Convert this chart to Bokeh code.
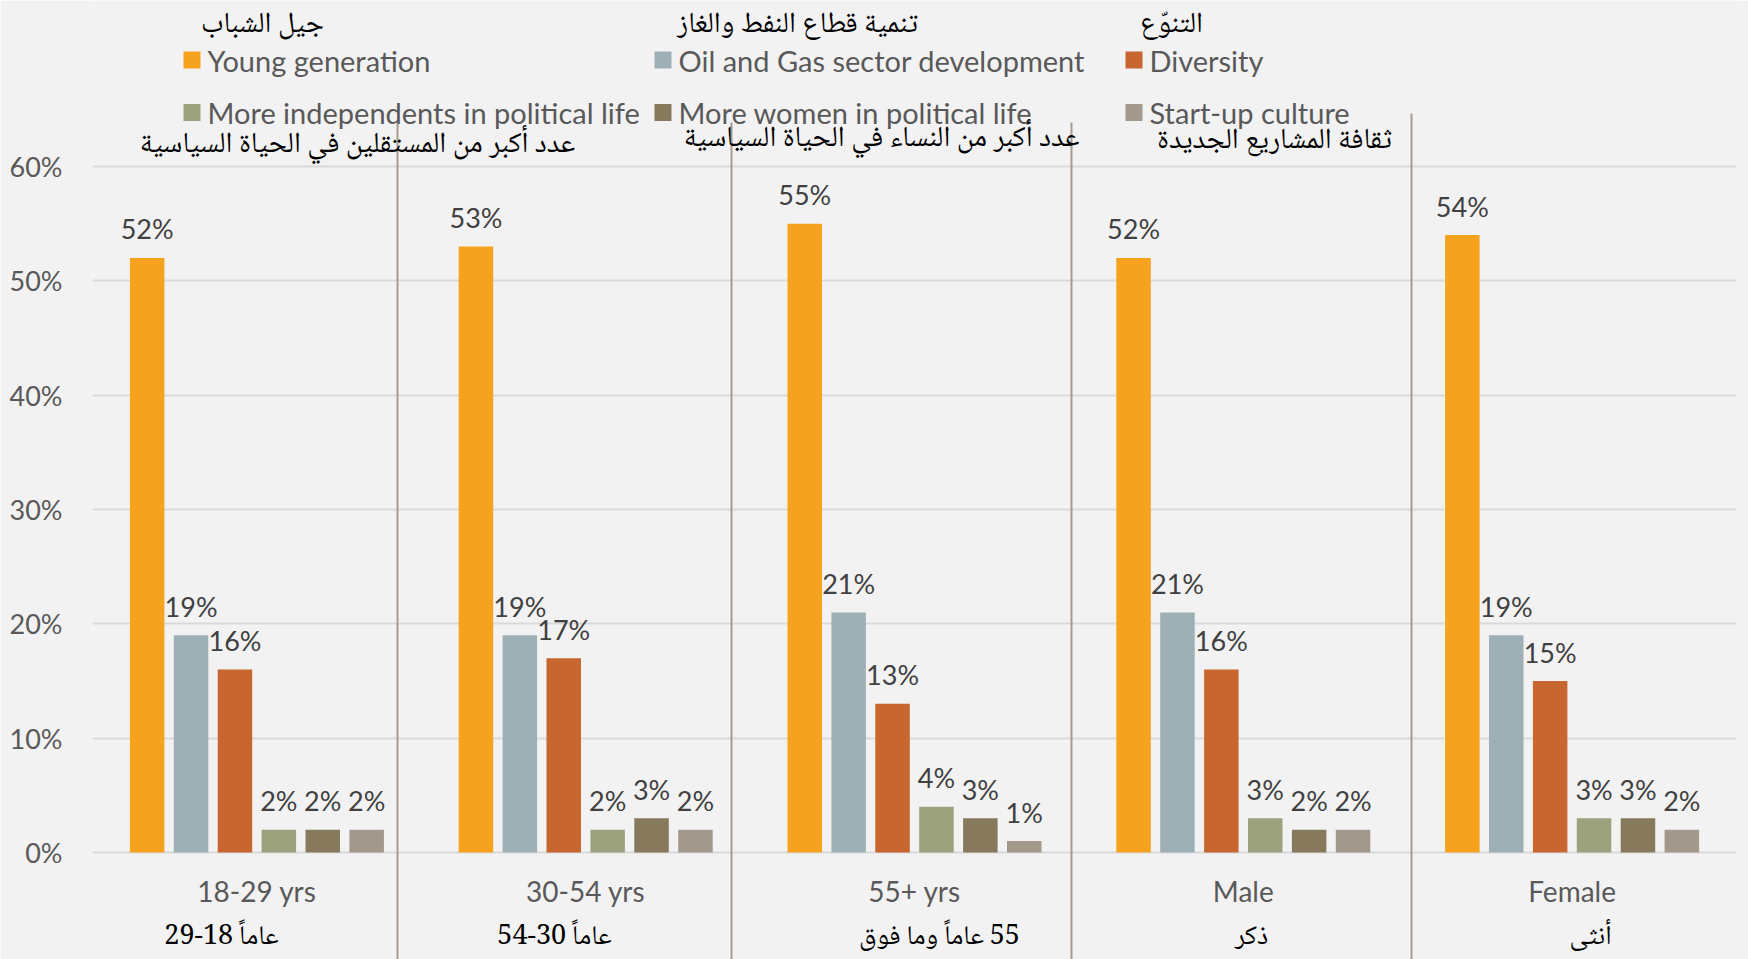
from bokeh.plotting import figure
from bokeh.models import FactorRange, Range1d, FixedTicker, ColumnDataSource, NumeralTickFormatter
from bokeh.transform import dodge
from bokeh.core.properties import value
from bokeh.embed import file_html
from bokeh.resources import INLINE

# ---------------- data ----------------
groups = ["18-29 yrs", "30-54 yrs", "55+ yrs", "Male", "Female"]
groups_ar = ["عاماً 18-29", "عاماً 30-54", "55 عاماً وما فوق", "ذكر", "أنثى"]

series_names = ["Young generation", "Oil and Gas sector development", "Diversity",
                "More independents in political life", "More women in political life",
                "Start-up culture"]
series_ar = ["جيل الشباب", "تنمية قطاع النفط والغاز", "التنوّع",
             "عدد أكبر من المستقلين في الحياة السياسية",
             "عدد أكبر من النساء في الحياة السياسية",
             "ثقافة المشاريع الجديدة"]

young_generation = [0.52, 0.53, 0.55, 0.52, 0.54]
oil_gas = [0.19, 0.19, 0.21, 0.21, 0.19]
diversity = [0.16, 0.17, 0.13, 0.16, 0.15]
independents = [0.02, 0.02, 0.04, 0.03, 0.03]
women = [0.02, 0.03, 0.03, 0.02, 0.03]
startup = [0.02, 0.02, 0.01, 0.02, 0.02]

y_ticks = [0.0, 0.1, 0.2, 0.3, 0.4, 0.5, 0.6]

# ---------------- styles / layout ----------------
colors = ["#F5A31E", "#9EAFB5", "#C8662F", "#9CA27E", "#877A5C", "#A2998C"]
BG = "#F2F2F2"
GRID = "#D9D9D9"
SEP = "#A59B90"
GRAY = "#595959"
DARK = "#404040"
FONT = "Lato"
AR_FONT = "'Noto Naskh Arabic', 'DejaVu Sans'"
RLE, PDF = "\u202b", "\u202c"   # right-to-left embedding for Arabic runs

W, H = 1748, 959
FRAME_L, FRAME_R = 92, 1736
Y_ZERO, Y_SIXTY = 852, 166
KY = (Y_ZERO - Y_SIXTY) / 0.6
CAT_W = (FRAME_R - FRAME_L) / len(groups)

def X(px):
    return (px - FRAME_L) / CAT_W

def Y(py):
    return (Y_ZERO - py) / KY

BAR_W = 34.5 / CAT_W
STEP = 43.9 / CAT_W

p = figure(x_range=FactorRange(*groups, range_padding=0),
           y_range=Range1d(Y(H), Y(0)),
           frame_width=FRAME_R - FRAME_L, frame_height=H,
           min_border_left=FRAME_L, min_border_right=W - FRAME_R,
           min_border_top=0, min_border_bottom=0,
           output_backend="svg", toolbar_location=None)
p.background_fill_color = BG
p.border_fill_color = BG
p.outline_line_color = None
p.xaxis.visible = False
p.xgrid.visible = False

p.ygrid.ticker = FixedTicker(ticks=y_ticks)
p.ygrid.grid_line_color = GRID
p.ygrid.grid_line_width = 2

ya = p.yaxis[0]
ya.ticker = FixedTicker(ticks=y_ticks)
ya.formatter = NumeralTickFormatter(format="0%")
ya.axis_line_color = None
ya.major_tick_line_color = None
ya.minor_tick_line_color = None
ya.major_tick_out = 0
ya.major_tick_in = 0
ya.major_label_standoff = 30
ya.major_label_text_font = FONT
ya.major_label_text_font_size = "27px"
ya.major_label_text_color = GRAY

# ---------------- bars + labels ----------------
series_values = [young_generation, oil_gas, diversity, independents, women, startup]
data = {"group": groups}
for i, vals in enumerate(series_values):
    data[f"s{i}"] = vals
    data[f"l{i}"] = [f"{round(v * 100)}%" for v in vals]
src = ColumnDataSource(data)

for i in range(len(series_values)):
    off = (i - 2.5) * STEP
    p.vbar(x=dodge("group", off, range=p.x_range), top=f"s{i}", width=BAR_W,
           bottom=0, source=src, fill_color=colors[i], line_color=None)
    p.text(x=dodge("group", off, range=p.x_range), y=f"s{i}", text=f"l{i}", source=src,
           text_align="center", text_baseline="middle", y_offset=-29,
           text_font=value(FONT), text_font_size="27px", text_color=DARK)

# ---------------- category labels ----------------
p.text(x=groups, y=[Y(890)] * len(groups), text=groups, text_align="center",
       text_baseline="middle", text_font=value(FONT), text_font_size="28px",
       text_color=GRAY)
ar_cat_px = [221, 554, 939, 1251, 1590]
p.text(x=[X(v) for v in ar_cat_px], y=[Y(937)] * len(groups),
       text=[RLE + t + PDF for t in groups_ar],
       text_align="center", text_baseline="middle", text_font=value(AR_FONT),
       text_font_size="27px", text_color="#000000")

# ---------------- separators ----------------
sep_px = [397, 731, 1071, 1411]
sep_top = [122, 122, 122, 113]
p.segment(x0=[X(v) for v in sep_px], x1=[X(v) for v in sep_px],
          y0=[Y(t) for t in sep_top], y1=[Y(H)] * 4,
          line_color=SEP, line_width=2)

# ---------------- legend (hand-laid) ----------------
col_px = [191.5, 662.5, 1133.5]
row_px = [59.5, 112]
mx, my, tx = [], [], []
for k in range(6):
    c, r = k % 3, k // 3
    mx.append(X(col_px[c]))
    my.append(Y(row_px[r]))
    tx.append(X(col_px[c] + 15.5))
p.scatter(x=mx, y=my, marker="square", size=17, fill_color=colors, line_color=None)
p.text(x=tx, y=my, text=series_names, text_align="left", text_baseline="middle",
       text_font=value(FONT), text_font_size="29px", text_color=GRAY)

ar_leg_x = [262, 797, 1171, 357, 881, 1274]
ar_leg_y = [25, 25, 25, 145, 139, 141]
p.text(x=[X(v) for v in ar_leg_x], y=[Y(v) for v in ar_leg_y],
       text=[RLE + t + PDF for t in series_ar],
       text_align="center", text_baseline="middle", text_font=value(AR_FONT),
       text_font_size="29px", text_color="#000000")

open("out.html", "w").write(file_html(p, INLINE))
